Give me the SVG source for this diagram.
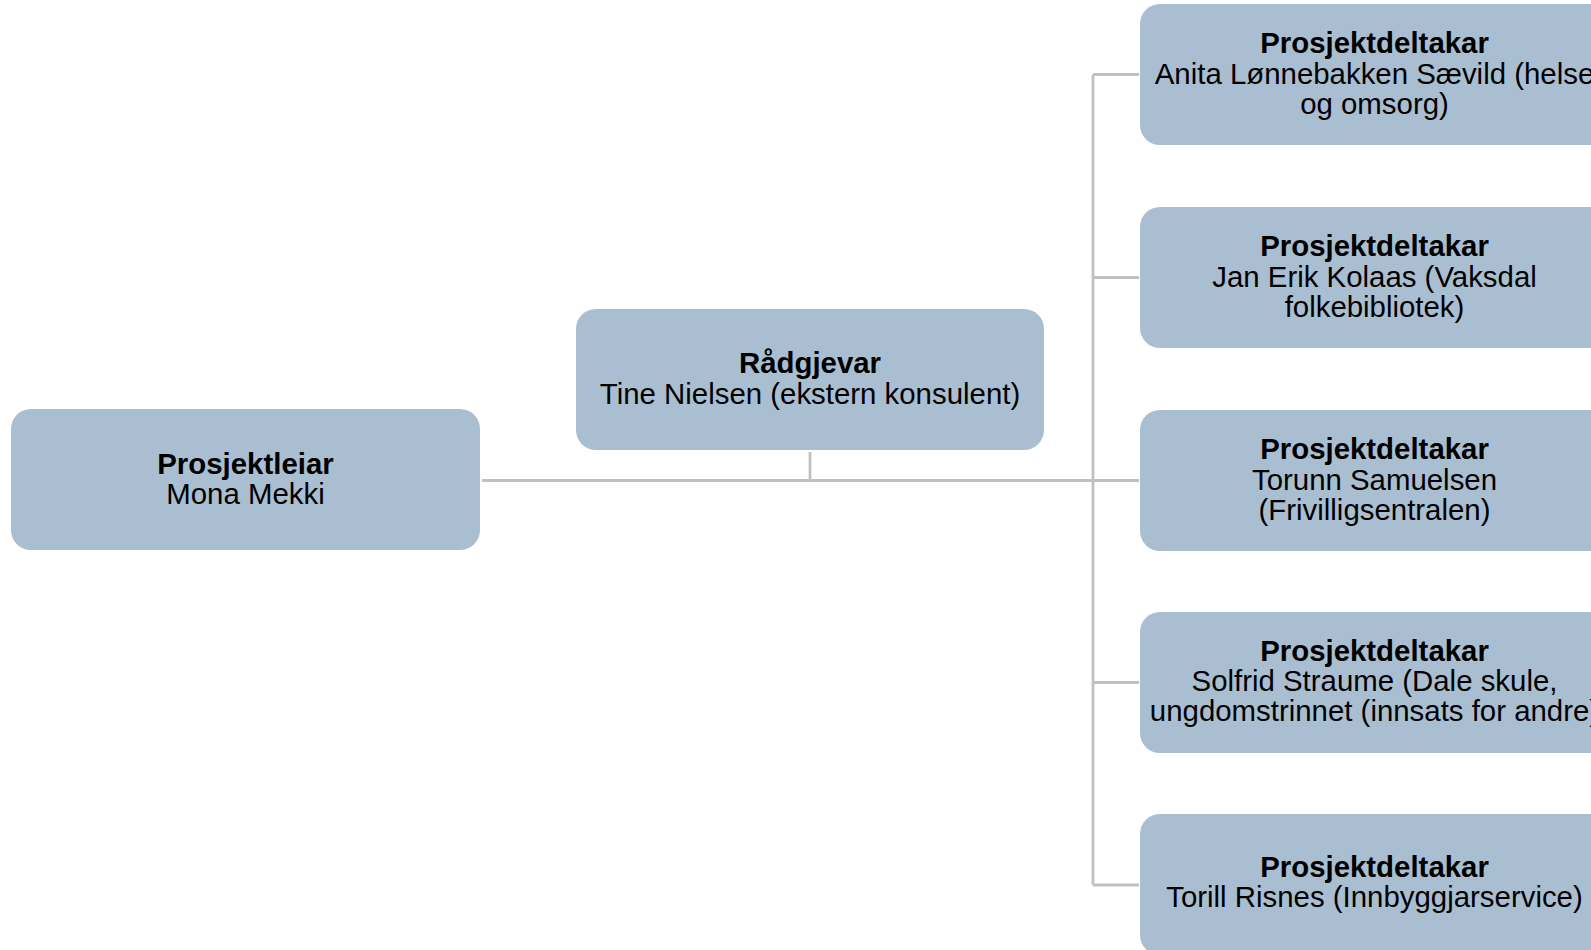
<svg xmlns="http://www.w3.org/2000/svg" width="1591" height="950" viewBox="0 0 1591 950">
<style>
.box{fill:#A9BFD1;}
.t{font-family:"Liberation Sans",Arial,sans-serif;font-size:29.4px;fill:#000;text-anchor:middle;}
.b{font-weight:bold;}
.c{fill:none;stroke:#C0C0C0;stroke-width:2.8;}
</style>
<rect width="1591" height="950" fill="#FFFFFF"/>
<g id="connectors">
<path class="c" d="M482 480.5 H1093"/>
<path class="c" d="M810 452 V480.5"/>
<path class="c" d="M1093 74.5 V885"/>
<path class="c" d="M1093 74.5 H1139"/>
<path class="c" d="M1093 277.5 H1139"/>
<path class="c" d="M1093 480.5 H1139"/>
<path class="c" d="M1093 682.5 H1139"/>
<path class="c" d="M1093 885 H1139"/>
</g>
<g id="prosjektleiar">
<rect class="box" x="11" y="409" width="469" height="141" rx="20"/>
<text class="t"><tspan class="b" x="245.5" y="474">Prosjektleiar</tspan><tspan x="245.5" y="504">Mona Mekki</tspan></text>
</g>
<g id="radgjevar">
<rect class="box" x="576" y="309" width="468" height="141" rx="20"/>
<text class="t"><tspan class="b" x="810" y="373">Rådgjevar</tspan><tspan x="810" y="403.5">Tine Nielsen (ekstern konsulent)</tspan></text>
</g>
<g id="deltakar1">
<rect class="box" x="1140" y="4" width="469" height="141" rx="20"/>
<text class="t"><tspan class="b" x="1374.5" y="53">Prosjektdeltakar</tspan><tspan x="1374.5" y="83.5">Anita Lønnebakken Sævild (helse</tspan><tspan x="1374.5" y="113.5">og omsorg)</tspan></text>
</g>
<g id="deltakar2">
<rect class="box" x="1140" y="207" width="469" height="141" rx="20"/>
<text class="t"><tspan class="b" x="1374.5" y="256">Prosjektdeltakar</tspan><tspan x="1374.5" y="286.5">Jan Erik Kolaas (Vaksdal</tspan><tspan x="1374.5" y="316.5">folkebibliotek)</tspan></text>
</g>
<g id="deltakar3">
<rect class="box" x="1140" y="410" width="469" height="141" rx="20"/>
<text class="t"><tspan class="b" x="1374.5" y="459">Prosjektdeltakar</tspan><tspan x="1374.5" y="489.5">Torunn Samuelsen</tspan><tspan x="1374.5" y="519.5">(Frivilligsentralen)</tspan></text>
</g>
<g id="deltakar4">
<rect class="box" x="1140" y="612" width="469" height="141" rx="20"/>
<text class="t"><tspan class="b" x="1374.5" y="661">Prosjektdeltakar</tspan><tspan x="1374.5" y="690.5">Solfrid Straume (Dale skule,</tspan><tspan x="1374.5" y="720.5">ungdomstrinnet (innsats for andre)</tspan></text>
</g>
<g id="deltakar5">
<rect class="box" x="1140" y="814" width="469" height="141" rx="20"/>
<text class="t"><tspan class="b" x="1374.5" y="877">Prosjektdeltakar</tspan><tspan x="1374.5" y="907">Torill Risnes (Innbyggjarservice)</tspan></text>
</g>
</svg>
